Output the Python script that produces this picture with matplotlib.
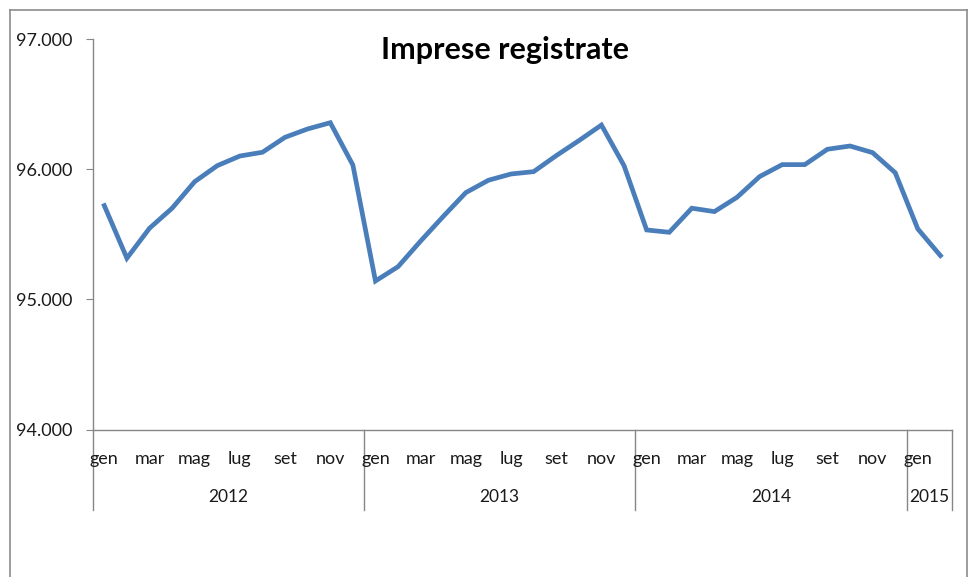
import numpy as np
import matplotlib
matplotlib.use("Agg")
import matplotlib.pyplot as plt
import matplotlib.transforms as mtransforms
from matplotlib.lines import Line2D

# monthly registered companies, gen 2012 .. feb 2015
months = ['gen', 'feb', 'mar', 'apr', 'mag', 'giu',
          'lug', 'ago', 'set', 'ott', 'nov', 'dic']
years = ['2012', '2013', '2014', '2015']
year_counts = [12, 12, 12, 2]
values = [
    95720, 95316, 95546, 95700, 95904, 96027, 96101, 96130, 96245, 96309, 96357, 96032,
    95141, 95251, 95448, 95637, 95820, 95915, 95963, 95981, 96104, 96219, 96339, 96027,
    95533, 95515, 95700, 95674, 95784, 95943, 96035, 96035, 96153, 96178, 96127, 95973,
    95541, 95336,
]
yticks = [94000, 95000, 96000, 97000]

FONT = ['Lato', 'DejaVu Sans']
plt.rcParams['font.family'] = FONT
GRAY = '#868686'
BLUE = '#4A7EBB'

W, H = 971, 577
fig = plt.figure(figsize=(W / 100, H / 100), dpi=100)
ax = fig.add_axes([93 / W, 1 - 429.5 / H, (951.7 - 93) / W, (429.5 - 39) / H])

x = np.arange(len(values))
ax.plot(x, values, color=BLUE, lw=3.4, solid_joinstyle='miter')
ax.set_xlim(-0.5, len(values) - 0.5)
ax.set_ylim(yticks[0], yticks[-1])

for side in ['top', 'right']:
    ax.spines[side].set_visible(False)
for side in ['left', 'bottom']:
    ax.spines[side].set_color(GRAY)
    ax.spines[side].set_linewidth(1.0)

ax.set_yticks(yticks)
ax.set_yticklabels([f"{v:,}".replace(',', '.') for v in yticks])
ax.tick_params(axis='y', direction='out', length=5, color=GRAY, pad=10,
               labelsize=13, labelcolor='#1a1a1a')
ax.set_xticks([])

# two-level category axis
ax_h = 429.5 - 39
trans = mtransforms.blended_transform_factory(ax.transData, ax.transAxes)
labels = [months[i % 12] for i in range(len(values))]
for i in range(0, len(values), 2):
    ax.text(i, -29.5 / ax_h, labels[i], transform=trans, ha='center',
            va='center', fontsize=13, color='#1a1a1a')

edges = np.concatenate([[0], np.cumsum(year_counts)]) - 0.5
for e in edges:
    ax.add_line(Line2D([e, e], [0, -80.5 / ax_h], transform=trans,
                       color=GRAY, lw=1.0, clip_on=False))
for k, yr in enumerate(years):
    mid = (edges[k] + edges[k + 1]) / 2
    ax.text(mid, -67.5 / ax_h, yr, transform=trans, ha='center',
            va='center', fontsize=12.5, color='#1a1a1a')

fig.text(505 / W, 1 - 50 / H, 'Imprese registrate', ha='center', va='center',
         fontsize=22, fontweight='bold')

# chart frame
for xs, ys in [([9.5, 9.5], [0, 10]), ([9.5, 966.5], [10, 10]),
               ([966.5, 966.5], [10, 0])]:
    fig.add_artist(Line2D([v / W for v in xs],
                          [1 - v / H if v else 0 for v in ys],
                          transform=fig.transFigure, color='#8c8c8c', lw=1.2))

fig.savefig('out.png', dpi=100)
